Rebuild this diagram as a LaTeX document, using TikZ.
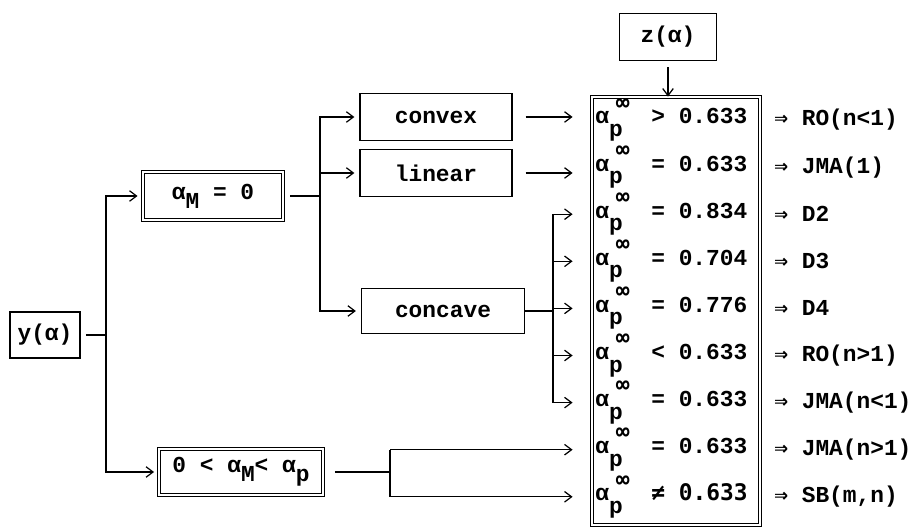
\documentclass[tikz,border=0pt]{standalone}
\usepackage{fontspec}
\setmainfont{Liberation Mono}
\newfontfamily\symfont{DejaVu Sans Mono}
\usetikzlibrary{arrows.meta}
\newcommand{\alp}{α\rlap{\raisebox{-.55em}{p}}\hspace{.3em}\raisebox{.6em}{\symfont ∞}}
\newcommand{\lowered}[1]{\raisebox{-.4em}{#1}}
\newcommand{\imp}{{\symfont ⇒}}
\begin{document}
\begin{tikzpicture}[x=0.02cm,y=-0.02cm,
    every node/.style={font=\fontsize{13}{15}\selectfont\bfseries},
    box/.style={draw,line width=0.7pt,inner sep=0pt},
    dbox/.style={draw=black,double=white,double distance=1.2pt,line width=0.5pt,inner sep=0pt},
    link/.style={line width=0.7pt},
    arr/.style={link,-{Straight Barb[length=4pt,width=6pt]}}]
    \useasboundingbox (0,0) rectangle (914,527);

    % Drawing box y
    \node [box,line width=1.1pt,minimum width=1.4cm,minimum height=0.92cm] (y) at (45,335) {y(α)};%

    % Drawing boxes alpha_M
    \node [dbox,minimum width=2.8cm,minimum height=0.96cm] (aM) at (213,196) {α\lowered{M} = 0};%
    \node [dbox,minimum width=3.26cm,minimum height=0.9cm] (aP) at (241,472) {0 \textless{} α\lowered{M}\textless{} α\lowered{p}};%
    \draw [dbox] (aP.south west) rectangle (aP.north east);%

    % Drawing boxes of the shapes
    \node [box,minimum width=3.04cm,minimum height=0.94cm] (convex) at (436,117) {convex};%
    \node [box,minimum width=3.04cm,minimum height=0.94cm] (linear) at (436,173) {linear};%
    \node [box,minimum width=3.26cm,minimum height=0.9cm] (concave) at (443,311) {concave};%

    % Drawing box z and the result box
    \node [box,line width=1pt,minimum width=1.94cm,minimum height=0.94cm] (z) at (668,37) {z(α)};%
    \node [dbox,minimum width=3.36cm,minimum height=8.56cm] (res) at (676,311) {};%

    % Marking the rows
    \foreach \rel/\val/\lab [count=\i] in {>/0.633/RO(n<1), =/0.633/JMA(1), =/0.834/D2,
        =/0.704/D3, =/0.776/D4, </0.633/RO(n>1), =/0.633/JMA(n<1), =/0.633/JMA(n>1),
        {\symfont ≠}/0.633/{SB(m,n)}} {
      \node [anchor=west,inner sep=0pt] (r\i) at (595,{120+47.1*(\i-1)}) {\alp\hspace{.95em}\rel\ \val};%
      \node [anchor=west,inner sep=0pt] (l\i) at (774,{120+47.1*(\i-1)}) {\imp\ \lab};%
    }

    % Drawing fork from y
    \coordinate (fy) at (106,335);
    \draw [link,shorten <=0.1cm] (y) -- (fy);%
    \draw [arr,shorten >=0.1cm] (fy) |- (aM);%
    \draw [arr,shorten >=0.1cm] (fy) |- (aP);%

    % Drawing fork from alpha_M = 0
    \coordinate (fM) at (320,196);
    \draw [link,shorten <=0.14cm] (aM) -- (fM);%
    \draw [arr,shorten >=0.1cm] (fM) |- (convex);%
    \draw [arr,shorten >=0.1cm] (fM) |- (linear);%
    \draw [arr,shorten >=0.1cm] (fM) |- (concave);%

    % Drawing arrows into the result box
    \draw [arr,shorten <=0.26cm,shorten >=0.38cm] (convex) -- (convex -| res.west);%
    \draw [arr,shorten <=0.26cm,shorten >=0.38cm] (linear) -- (linear -| res.west);%
    \draw [arr,shorten <=0.12cm] (z) -- (z |- res.north);%

    % Drawing fork from concave
    \coordinate (fc) at (553,311);
    \draw [link] (concave) -- (fc);%
    \draw [link] (fc |- r3) -- (fc |- r7);%
    \foreach \i in {3,...,7}
      \draw [arr,shorten >=0.38cm] (fc |- r\i) -- (r\i -| res.west);%

    % Drawing fork from 0 < alpha_M < alpha_p
    \coordinate (fl) at (390,472);
    \draw [link,shorten <=0.24cm] (aP) -- (fl);%
    \draw [link] (fl |- r8) -- (fl |- r9);%
    \foreach \i in {8,9}
      \draw [arr,shorten >=0.38cm] (fl |- r\i) -- (r\i -| res.west);%
\end{tikzpicture}
\end{document}
